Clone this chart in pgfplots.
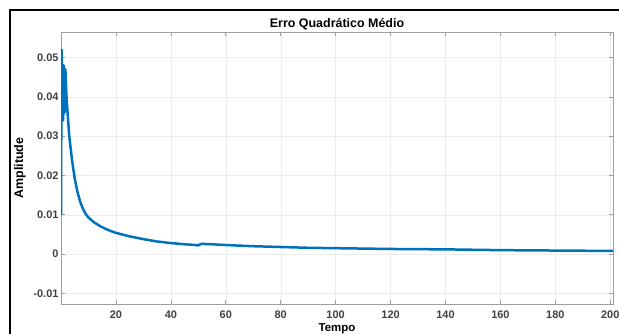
\documentclass[border=0pt]{standalone}
\usepackage{fontspec}
\setmainfont{Liberation Sans}
\usepackage{pgfplots}
\pgfplotsset{compat=1.18}
\definecolor{mblue}{RGB}{0,114,189}
\definecolor{tickgray}{gray}{0.25}
\begin{document}
\begin{tikzpicture}
\useasboundingbox (0,0) rectangle (619bp,334bp);
\draw[black, line width=2.2bp] (10bp,0) -- (10bp,324bp) -- (619bp,324bp);
\begin{axis}[
  at={(61bp,30bp)}, anchor=south west,
  scale only axis, width=552bp, height=272bp,
  xmin=0, xmax=201, ymin=-0.0127, ymax=0.0565,
  xtick={20,40,...,200},
  xticklabels={20,40,60,80,100,120,140,160,180,200},
  ytick={-0.01,0,0.01,0.02,0.03,0.04,0.05},
  yticklabels={-0.01,0,0.01,0.02,0.03,0.04,0.05},
  scaled y ticks=false,
  tick align=inside, major tick length=4bp,
  xtick pos=both, ytick pos=both,
  grid=major, grid style={gray!15, line width=0.4pt},
  axis line style={gray!75, line width=0.6pt},
  tick style={gray!75, line width=0.6pt},
  ticklabel style={font=\fontsize{11}{12}\selectfont\bfseries, text=tickgray},
  xticklabel style={inner sep=1bp, yshift=-6bp},
  yticklabel style={xshift=1bp},
  title={\fontsize{12.5}{14}\selectfont\bfseries Erro Quadrático Médio},
  title style={yshift=-7bp},
  xlabel={\fontsize{11.5}{12}\selectfont\bfseries Tempo},
  xlabel style={at={(axis description cs:0.5,0)}, anchor=base, inner sep=0pt, yshift=-27.5bp},
  ylabel={\fontsize{12.5}{14}\selectfont\bfseries Amplitude},
  ylabel style={yshift=1bp},
  clip=true,
]
\addplot[mblue, line width=2.5bp, line join=round] coordinates {
(0,0.010) (0.2,0.052) (0.5,0.040) (0.8,0.034) (1.0,0.048) (1.3,0.036)
(1.6,0.047) (2,0.040) (3,0.030) (4,0.024) (5,0.0192) (6,0.0158)
(7,0.0133) (8,0.0115) (9,0.0102) (10,0.0093) (12,0.0081) (14,0.0072) (16,0.0065)
(18,0.0059) (20,0.0054) (25,0.0045) (30,0.0038) (35,0.0032) (40,0.0028)
(45,0.0025) (49,0.0023) (50,0.0022) (51,0.0026) (55,0.0025) (60,0.0023)
(70,0.0020) (80,0.0018) (90,0.0016) (100,0.0015) (120,0.0013) (140,0.0012)
(160,0.0010) (180,0.0009) (201,0.0008)
};
\end{axis}
\end{tikzpicture}
\end{document}
